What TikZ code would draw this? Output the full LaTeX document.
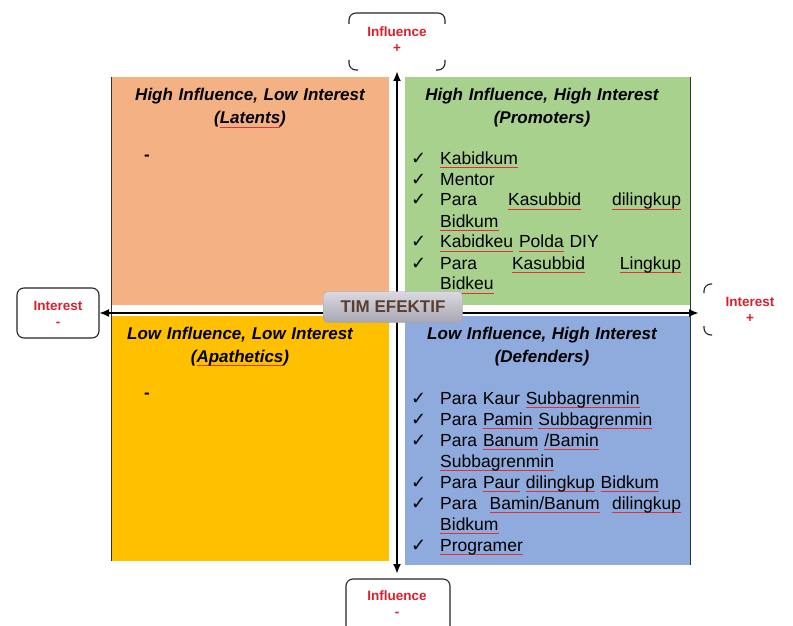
\documentclass[tikz,border=0pt]{standalone}
\usepackage{fontspec}
\setmainfont{Liberation Sans}
\newfontfamily\dvs{DejaVu Sans}
\usetikzlibrary{arrows.meta}
\definecolor{qorange}{HTML}{F4B183}
\definecolor{qgreen}{HTML}{A9D18E}
\definecolor{qgold}{HTML}{FFC000}
\definecolor{qblue}{HTML}{8FAADC}
\definecolor{lblred}{HTML}{D8202E}
\definecolor{timtext}{HTML}{5A3E30}
\definecolor{sqred}{HTML}{E0303A}
\newsavebox\sqbox
\newcommand\sqw[1]{\leavevmode\sbox\sqbox{#1}\rlap{\raisebox{-3.8pt}{\textcolor{sqred}{\rule{\wd\sqbox}{0.65pt}}}}\usebox\sqbox}
\newcommand\ck{\noindent\hangindent=30pt\hangafter=1\makebox[30pt][l]{\hspace{1pt}{\dvs\fontsize{18}{18}\selectfont ✓}}}
\begin{document}
\begin{tikzpicture}[x=1pt,y=-1pt,
  ttl/.style={text width=290pt, align=center, anchor=base, inner sep=0pt,
    font=\fontsize{17}{23}\selectfont\bfseries\itshape},
  lst/.style={text width=271pt, anchor=base west, inner sep=0pt,
    font=\fontsize{17.5}{21}\selectfont},
  lbl/.style={align=center, inner sep=0pt, text=lblred,
    font=\fontsize{13.5}{16}\selectfont\bfseries},
  lblline/.style={line width=1.1pt, draw=black!85, rounded corners=7pt},
  arr/.style={line width=2.4pt, {Latex[length=10pt,width=8pt]}-{Latex[length=10pt,width=8pt]}},
  edge/.style={line width=1pt, draw=black!80}
]
\useasboundingbox (0,0) rectangle (793,626);
\fill[white] (0,0) rectangle (793,626);

% quadrants
\fill[qorange] (111,77) rectangle (389,305);
\fill[qgreen] (405,77) rectangle (690,305);
\fill[qgold] (111,316) rectangle (389,561);
\fill[qblue] (405,316) rectangle (690,565);
\draw[edge] (111,77) -- (111,561);
\draw[edge] (690,77) -- (690,565);

% titles
\node[ttl] (t1) at (250,101) {High Influence, Low Interest\\(\sqw{Latents})};
\node[ttl] (t2) at (542,101) {High Influence, High Interest\\(Promoters)};
\node[ttl] (t3) at (240,339) {Low Influence, Low Interest\\(\sqw{Apathetics})};
\node[ttl] (t4) at (542,339) {Low Influence, High Interest\\(Defenders)};

% dashes
\node[font=\fontsize{17}{17}\selectfont\bfseries, inner sep=0pt] (d1) at (147,158) {-};
\node[font=\fontsize{17}{17}\selectfont\bfseries, inner sep=0pt] (d2) at (147,396) {-};

% lists
\node[lst] (l2) at (410,164) {%
\ck \sqw{Kabidkum}\par
\ck Mentor\par
\ck Para\hfill \sqw{Kasubbid}\hfill \sqw{dilingkup}\break \sqw{Bidkum}\par
\ck \sqw{Kabidkeu} \sqw{Polda} DIY\par
\ck Para\hfill \sqw{Kasubbid}\hfill \sqw{Lingkup}\break \sqw{Bidkeu}\par};

\node[lst] (l4) at (410,404) {%
\ck Para Kaur \sqw{Subbagrenmin}\par
\ck Para \sqw{Pamin} \sqw{Subbagrenmin}\par
\ck Para \sqw{Banum} \sqw{/Bamin}\hfil\break \sqw{Subbagrenmin}\par
\ck Para \sqw{Paur} \sqw{dilingkup} \sqw{Bidkum}\par
\ck Para\hfill \sqw{Bamin/Banum}\hfill \sqw{dilingkup}\break \sqw{Bidkum}\par
\ck \sqw{Programer}\par};

% axes
\coordinate (vt) at (397,71);
\coordinate (vb) at (397,574);
\coordinate (hl) at (99,313);
\coordinate (hr) at (699,313);
\draw[arr] (vb) -- (vt);
\draw[arr] (hl) -- (hr);

% center
\node[rounded corners=4pt, top color={rgb,255:red,218;green,216;blue,224},
  bottom color={rgb,255:red,168;green,166;blue,178}, draw=black!35,
  minimum width=139pt, minimum height=31pt, inner sep=0pt,
  font=\fontsize{17}{17}\selectfont\bfseries, text=timtext] (tim) at (393,307) {TIM EFEKTIF};

% axis labels
\node[lbl] (itop) at (397,40) {Influence\\+};
\node[lbl] (ibot) at (397,604) {Influence\\-};
\node[lbl] (ileft) at (58,314) {Interest\\-};
\node[lbl] (iright) at (750,310) {Interest\\+};

% label frames
\draw[lblline] (349,24) -- (349,13) -- (445,13) -- (445,24);
\draw[lblline] (349,60) -- (349,70) -- (358,70);
\draw[lblline] (436,70) -- (445,70) -- (445,60);
\draw[lblline] (346,626) -- (346,579) -- (450,579) -- (450,626);
\draw[lblline] (17,288) rectangle (99,338);
\draw[lblline] (704,293) -- (704,284) -- (712,284);
\draw[lblline] (704,326) -- (704,335) -- (712,335);
\end{tikzpicture}
\end{document}
